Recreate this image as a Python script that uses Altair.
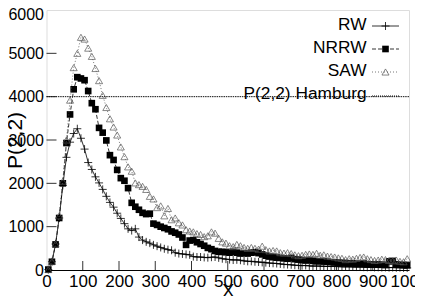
import altair as alt
import pandas as pd

# ---------------- data ----------------
x_bins = list(range(5, 1000, 10))

rw = [10, 190, 600, 1200, 1950, 2600, 2950, 3150, 3260, 3040,
      2790, 2480, 2320, 2150, 2010, 1860, 1700, 1560, 1450, 1310,
      1190, 1070, 950, 910, 950, 760, 690, 650, 620, 580,
      550, 520, 490, 470, 455, 400, 380, 370, 360, 350,
      310, 300, 300, 290, 285, 295, 300, 280, 260, 250,
      240, 230, 235, 225, 210, 200, 200, 190, 185, 175,
      170, 160, 155, 150, 140, 130, 125, 120, 110, 105,
      100, 105, 95, 90, 92, 88, 85, 82, 80, 85,
      78, 75, 72, 75, 70, 68, 72, 65, 62, 66,
      60, 62, 58, 60, 55, 58, 52, 55, 50, 48]

nrrw = [10, 190, 590, 1200, 2000, 2930, 3590, 4170, 4450, 4420,
        4380, 4130, 3850, 3710, 3280, 3170, 2990, 2650, 2540, 2310,
        2120, 2060, 1890, 1550, 1460, 1390, 1320, 1290, 1300, 1070,
        1040, 1000, 970, 940, 890, 860, 820, 750, 580, 680,
        690, 640, 600, 560, 510, 480, 440, 420, 420, 410,
        400, 420, 400, 380, 390, 380, 400, 410, 390, 360,
        330, 310, 295, 285, 280, 270, 260, 280, 250, 240,
        230, 220, 230, 210, 200, 205, 195, 190, 180, 175,
        170, 165, 160, 150, 155, 145, 140, 150, 135, 130,
        125, 130, 120, 115, 200, 210, 130, 120, 115, 110]

saw = [10, 200, 600, 1250, 2050, 3000, 3920, 4670, 5000, 5370,
       5330, 5120, 4930, 4650, 4370, 4030, 3750, 3490, 3300, 3115,
       2840, 2615, 2380, 2280, 2010, 1970, 1930, 1860, 1700, 1640,
       1440, 1480, 1250, 1420, 1160, 1200, 1090, 1040, 930, 900,
       880, 840, 820, 770, 790, 880, 850, 730, 650, 620,
       560, 540, 590, 560, 520, 500, 520, 500, 480, 550,
       470, 440, 450, 440, 400, 390, 400, 380, 350, 330,
       340, 360, 370, 360, 385, 340, 350, 320, 310, 300,
       280, 270, 240, 260, 250, 270, 290, 300, 260, 240,
       220, 230, 250, 240, 220, 210, 230, 200, 190, 260]

series_names = ["RW", "NRRW", "SAW"]
hamburg_name = "P(2,2) Hamburg"
hamburg_value = [4000]
x_tick_values = [0, 100, 200, 300, 400, 500, 600, 700, 800, 900, 1000]
y_tick_values = [0, 1000, 2000, 3000, 4000, 5000, 6000]

# ---------------- chart ----------------
FONT = "Liberation Sans"
W, H = 362.5, 260

df = pd.DataFrame({"x": x_bins, "RW": rw, "NRRW": nrrw, "SAW": saw}).melt(
    "x", var_name="series", value_name="y")

x_scale = alt.Scale(domain=[0, 1000], nice=False, zero=False)
y_scale = alt.Scale(domain=[0, 6000], nice=False, zero=False)

x_axis = alt.Axis(values=x_tick_values, title="X", ticks=False, tickSize=0, format="d",
                  labelPadding=3, labelFontSize=17, labelFont=FONT,
                  labelColor="black", labelFlush=False, labelOverlap=False,
                  domain=True, domainColor="black", domainWidth=1, grid=False,
                  titleFont=FONT, titleFontSize=18, titleFontWeight="normal",
                  titleColor="black", titleBaseline="top", titleY=12)
y_axis = alt.Axis(values=y_tick_values, title="P(2,2)", ticks=False, tickSize=0, format="d",
                  labelPadding=3, labelFontSize=16, labelFont=FONT,
                  labelColor="black", labelFlush=False, labelOverlap=False,
                  labelOffset={"condition": {"test": "datum.value === 6000", "value": 4}, "value": 0},
                  domain=False, grid=False,
                  titleFont=FONT, titleFontSize=21, titleFontWeight="normal",
                  titleColor="black", titleAngle=270, titleAlign="center",
                  titleBaseline="middle", titleX=-31, titleY=130)

X = alt.X("x:Q", scale=x_scale, axis=x_axis)
Y = alt.Y("y:Q", scale=y_scale, axis=y_axis)

PLUS = "M-1,0H1M0,-1V1"
styles = {
    "RW": dict(color="black", dash=None, marker=dict(shape=PLUS, filled=False, size=64, strokeWidth=0.8, color="black")),
    "NRRW": dict(color="black", dash=[4, 2], marker=dict(shape="square", filled=True, size=44, color="black")),
    "SAW": dict(color="#555555", dash=[1, 2], marker=dict(shape="triangle-up", filled=False, size=50, strokeWidth=0.7, color="#555555")),
}

layers = []

# inward tick marks
layers.append(alt.Chart(pd.DataFrame({"x": x_tick_values[1:-1]})).mark_rule(
    color="#333333", strokeWidth=1).encode(x=X, y=alt.value(H), y2=alt.value(H - 9)))
layers.append(alt.Chart(pd.DataFrame({"y": y_tick_values[1:-1]})).mark_rule(
    color="#333333", strokeWidth=1).encode(y=Y, x=alt.value(0), x2=alt.value(10)))

for name in series_names:
    st = styles[name]
    sub = alt.Chart(df).transform_filter(alt.datum.series == name)
    line_kw = dict(color=st["color"], strokeWidth=0.8)
    if st["dash"]:
        line_kw["strokeDash"] = st["dash"]
    layers.append(sub.mark_line(**line_kw).encode(x=X, y=Y))
    layers.append(sub.mark_point(opacity=1, **st["marker"]).encode(x=X, y=Y))

# Hamburg reference line
layers.append(alt.Chart(pd.DataFrame({"y": hamburg_value})).mark_rule(
    color="#111111", strokeWidth=1, strokeDash=[1.5, 0.8]).encode(y=Y))

# legend (key, top right, inside the plot)
legend_rows = series_names + [hamburg_name]
for i, name in enumerate(legend_rows):
    ly = 15 + 23 * i
    one = alt.Chart(pd.DataFrame({"name": [name]}))
    layers.append(one.mark_text(align="right", baseline="middle", font=FONT,
                                fontSize=17.3, color="black").encode(
        x=alt.value(320), y=alt.value(ly), text="name:N"))
    if name in styles:
        st = styles[name]
        rk = dict(color=st["color"], strokeWidth=0.8)
        if st["dash"]:
            rk["strokeDash"] = st["dash"]
        layers.append(one.mark_rule(**rk).encode(
            x=alt.value(325.5), x2=alt.value(352.5), y=alt.value(ly + 1)))
        layers.append(one.mark_point(opacity=1, **st["marker"]).encode(
            x=alt.value(339), y=alt.value(ly + 1)))
    else:
        layers.append(one.mark_rule(color="#111111", strokeWidth=1, strokeDash=[1, 1]).encode(
            x=alt.value(325.5), x2=alt.value(352.5), y=alt.value(ly + 2)))

chart = alt.layer(*layers).properties(
    width=W, height=H,
    padding={"left": 38.5, "top": 2, "right": 6, "bottom": 26},
    autosize=alt.AutoSizeParams(type="none"),
).configure_view(stroke="#888888", strokeWidth=1.5).configure(background="white")

chart.save("out.html", embed_options={"renderer": "svg", "actions": False})
